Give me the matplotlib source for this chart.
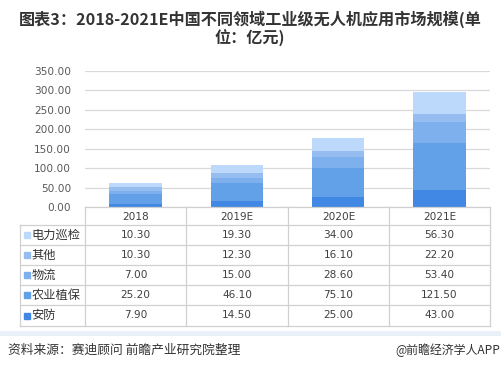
import matplotlib
matplotlib.use("Agg")
import matplotlib.pyplot as plt
from matplotlib.patches import Rectangle
from matplotlib.lines import Line2D

plt.rcParams['font.family'] = ['Noto Sans CJK SC', 'DejaVu Sans']

years = ["2018", "2019E", "2020E", "2021E"]
series_names = ["电力巡检", "其他", "物流", "农业植保", "安防"]  # table order (top to bottom)
power = [10.30, 19.30, 34.00, 56.30]
other = [10.30, 12.30, 16.10, 22.20]
logistics = [7.00, 15.00, 28.60, 53.40]
agri = [25.20, 46.10, 75.10, 121.50]
security = [7.90, 14.50, 25.00, 43.00]
yticks = [0, 50, 100, 150, 200, 250, 300, 350]

series_values = [power, other, logistics, agri, security]
colors = ["#bcd8fb", "#96bdef", "#7eb0ee", "#62a0e8", "#4088e3"]

W, H = 501, 376
fig = plt.figure(figsize=(W / 100, H / 100), dpi=100)
fig.patch.set_facecolor("white")

def fx(px):
    return px / W

def fy(py):
    return 1 - py / H

# plot area
x0, x1 = 85, 490
ytop, ybot = 71, 207
ax = fig.add_axes([fx(x0), fy(ybot), fx(x1 - x0), (ybot - ytop) / H])
ax.set_xlim(-0.5, 3.5)
ax.set_ylim(0, 350)
ax.set_yticks(yticks)
ax.set_yticklabels([f"{v:.2f}" for v in yticks], fontsize=7.6, color="#595959",
                   family=['DejaVu Sans'])
ax.tick_params(axis='y', length=0, pad=10)
ax.set_xticks([])
for s in ax.spines.values():
    s.set_visible(False)
ax.grid(axis='y', color="#d9d9d9", linewidth=0.9)
ax.set_axisbelow(True)

# stacked bars, bottom to top: 安防, 农业植保, 物流, 其他, 电力巡检
bottom = [0.0] * len(years)
for name, vals, col in reversed(list(zip(series_names, series_values, colors))):
    ax.bar(range(len(years)), vals, width=0.52, bottom=bottom, color=col, label=name, zorder=3)
    bottom = [b + v for b, v in zip(bottom, vals)]

# data table drawn in an overlay axes in pixel coordinates
tax = fig.add_axes([0, 0, 1, 1])
tax.set_xlim(0, W)
tax.set_ylim(H, 0)
tax.axis('off')

lc = "#d0d0d0"
lw = 0.9
col_edges = [85, 186, 288, 389, 490]
row_edges = [207, 225, 245, 265, 285, 305, 326]
tl, tr = 20, 490
tax.add_line(Line2D([85, 490], [207, 207], color=lc, lw=lw))
for y in row_edges[1:]:
    tax.add_line(Line2D([tl, tr], [y, y], color=lc, lw=lw))
tax.add_line(Line2D([tl, tl], [225, 326], color=lc, lw=lw))
for x in col_edges:
    tax.add_line(Line2D([x, x], [207, 326], color=lc, lw=lw))

# header
for i, yr in enumerate(years):
    cx = (col_edges[i] + col_edges[i + 1]) / 2
    tax.text(cx, 216.5, yr, ha='center', va='center', fontsize=7.6, color="#404040",
             family=['DejaVu Sans'])

for r, (name, vals, col) in enumerate(zip(series_names, series_values, colors)):
    cy = (row_edges[r + 1] + row_edges[r + 2]) / 2
    tax.add_patch(Rectangle((24.5, cy - 3), 6, 6, color=col))
    tax.text(31.5, cy, name, ha='left', va='center', fontsize=8.8, color="#333333")
    for i, v in enumerate(vals):
        cx = (col_edges[i] + col_edges[i + 1]) / 2
        tax.text(cx, cy, f"{v:.2f}", ha='center', va='center', fontsize=7.6, color="#404040",
                 family=['DejaVu Sans'])

# title
tax.text(250, 19, "图表3：2018-2021E中国不同领域工业级无人机应用市场规模(单", ha='center', va='center',
         fontsize=11.6, fontweight='bold', color="#333333")
tax.text(250, 38, "位：亿元)", ha='center', va='center',
         fontsize=11.6, fontweight='bold', color="#333333")

# separator strip
tax.add_patch(Rectangle((0, 331), W, 5, color="#e9f0f8", lw=0))

# footer
tax.text(8, 350, "资料来源：赛迪顾问 前瞻产业研究院整理", ha='left', va='center',
         fontsize=9.2, color="#333333")
tax.text(500, 350, "@前瞻经济学人APP", ha='right', va='center',
         fontsize=8.6, color="#333333")

fig.savefig("out.png", dpi=100, facecolor="white")
